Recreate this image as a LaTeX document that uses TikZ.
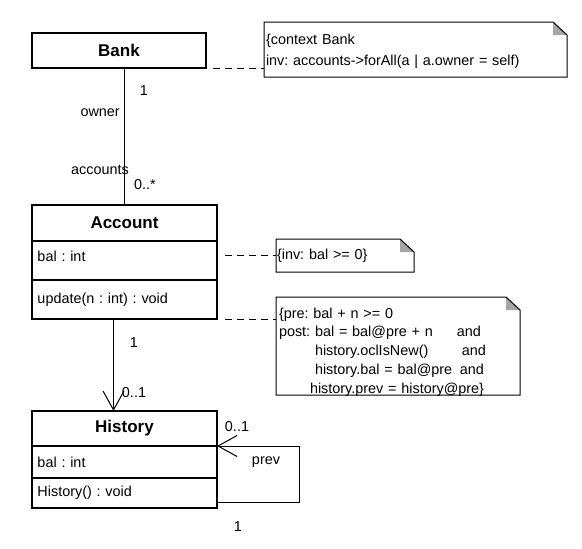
\documentclass[tikz,border=0pt]{standalone}
\usepackage{fontspec}
\setmainfont{Liberation Sans}
\frenchspacing
\usetikzlibrary{positioning, arrows.meta}
\tikzset{
  classhead/.style={draw, line width=1.2pt, minimum width=185pt, minimum height=36pt, inner sep=0pt, outer sep=0pt, font=\fontsize{17}{20}\selectfont\bfseries},
  member/.style={draw, line width=1.2pt, text width=174pt, align=left, inner xsep=5.5pt, inner ysep=0pt, outer sep=0pt, font=\fontsize{14.4}{18}\selectfont},
  note/.style={inner ysep=0pt, outer sep=0pt, align=left, anchor=north west, font=\fontsize{14.4}{18.8}\selectfont},
  lbl/.style={inner sep=0pt, font=\fontsize{14.4}{18}\selectfont},
  assoc/.style={line width=1pt},
  navig/.style={line width=1pt, -{Straight Barb[length=19pt, width=21pt]}},
  anchorline/.style={line width=1pt, dash pattern=on 7pt off 5pt},
}
\begin{document}
\begin{tikzpicture}[x=1pt, y=-1pt]
  \useasboundingbox (0, 0) rectangle (582, 549);
  % classes
  \node[classhead, minimum width=174pt, minimum height=35pt] (bank) at (119, 50.5) {Bank};
  \node[classhead] (account) at (124.5, 223) {Account};
  \node[member, minimum height=39pt, text height=4pt, text depth=3pt, below=0pt of account] (accbal) {bal : int};
  \node[member, minimum height=39pt, below=0pt of accbal] (accop) {update(n : int) : void};
  \node[classhead, minimum height=35pt] (hist) at (124.5, 428.5) {History};
  \node[member, minimum height=32pt, below=0pt of hist] (histbal) {bal : int};
  \node[member, minimum height=30pt, below=0pt of histbal] (histop) {History() : void};
  % notes
  \node[note, text width=299pt, inner xsep=2pt, minimum height=55pt, text height=10pt, text depth=21pt, font=\fontsize{14.4}{21}\selectfont] (nbank) at (264, 22) {\{context Bank\\inv: accounts->forAll(a | a.owner = self)};
  \node[note, text width=136pt, inner xsep=1pt, minimum height=33pt] (ninv) at (276, 239) {\{inv: bal >= 0\}};
  \node[note, text width=238pt, inner xsep=3pt, minimum height=98pt, text height=10pt, text depth=66pt] (nupd) at (276, 297) {\{pre: bal + n >= 0\\
    \makebox[178pt][l]{post: bal = bal@pre + n}and\\
    \hspace*{36pt}\makebox[147pt][l]{history.oclIsNew()}and\\
    \hspace*{36pt}\makebox[145pt][l]{history.bal = bal@pre}and\\
    \hspace*{31pt}history.prev = history@pre\}};
  \foreach \n in {nbank, ninv, nupd} {
    \fill[black!35] ([xshift=-14pt]\n.north east) -- ([xshift=-14pt, yshift=-13pt]\n.north east) -- ([yshift=-13pt]\n.north east) -- cycle;
    \draw[line width=1pt] (\n.south west) -- (\n.north west) -- ([xshift=-14pt]\n.north east) -- ([yshift=-13pt]\n.north east) -- (\n.south east) -- cycle;
  }
  % associations
  \draw[assoc] (account.north) -- (account.north |- bank.south);
  \draw[navig] ([xshift=-11pt]accop.south) -- ([xshift=-11pt]hist.north);
  \draw[navig] ([yshift=6pt]histop.south east) -| ([xshift=82pt]hist.south east) -- (hist.south east);
  \draw[anchorline] ([xshift=7pt]bank.south east) -- (bank.south east -| nbank.west);
  \draw[anchorline] ([xshift=8pt]ninv.west -| accbal.east) -- (ninv.west);
  \draw[anchorline] ([xshift=8pt]accop.south east) -- (accop.south east -| nupd.west);
  % ends
  \node[lbl] (bankmult) at (144, 91) {1};
  \node[lbl, anchor=east] (ownerrole) at (120, 113) {owner};
  \node[lbl] (accrole) at (100, 170) {accounts};
  \node[lbl] (accmult) at (145, 185) {0..*};
  \node[lbl] (histsrc) at (134, 343) {1};
  \node[lbl] (histmult) at (134, 393) {0..1};
  \node[lbl] (prevmult) at (237, 427) {0..1};
  \node[lbl] (prevrole) at (266, 462) {prev};
  \node[lbl] (prevsrc) at (238, 527) {1};
\end{tikzpicture}
\end{document}
